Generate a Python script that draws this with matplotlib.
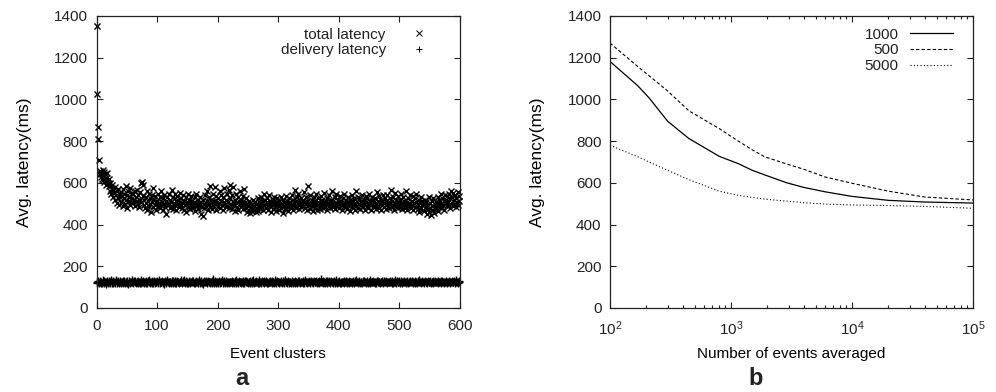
import numpy as np
import matplotlib.pyplot as plt

plt.rcParams['font.family'] = ['Liberation Sans', 'DejaVu Sans']
plt.rcParams['mathtext.default'] = 'regular'
plt.rcParams['text.color'] = '#222222'

# panel a: per event cluster latency (ms), clusters 0..599
total_latency = [
    1350, 1025, 870, 810, 710, 640, 655, 630, 645, 620, 660, 615, 650, 605, 640, 625, 590, 645, 610, 600,
    585, 620, 560, 600, 545, 575, 590, 530, 565, 550, 520, 580, 540, 505, 560, 525, 570, 495, 545, 530,
    510, 555, 535, 490, 570, 525, 545, 500, 585, 520, 540, 480, 560, 515, 530, 495, 575, 510, 550, 525,
    505, 545, 520, 490, 560, 530, 515, 565, 500, 540, 485, 555, 520, 510, 600, 605, 590, 535, 495, 520,
    480, 530, 505, 560, 470, 515, 545, 490, 525, 500, 460, 540, 510, 575, 485, 520, 495, 535, 505, 470,
    515, 490, 545, 505, 480, 530, 495, 560, 510, 470, 525, 500, 540, 485, 515, 450, 530, 505, 495, 545,
    500, 480, 520, 510, 565, 490, 530, 475, 505, 545, 495, 515, 470, 535, 500, 520, 485, 550, 510, 495,
    525, 480, 505, 540, 470, 515, 495, 530, 460, 510, 500, 545, 485, 520, 505, 475, 535, 490, 515, 500,
    480, 510, 530, 465, 500, 545, 490, 520, 475, 505, 495, 530, 450, 510, 485, 440, 520, 500, 480, 540,
    505, 490, 560, 515, 470, 530, 500, 585, 485, 520, 510, 475, 545, 495, 515, 580, 500, 470, 535, 510,
    490, 525, 505, 560, 480, 515, 540, 495, 470, 530, 510, 575, 500, 485, 520, 545, 490, 510, 565, 480,
    525, 590, 500, 475, 540, 510, 580, 495, 465, 520, 505, 545, 485, 530, 470, 515, 500, 560, 490, 520,
    505, 475, 535, 495, 570, 510, 480, 525, 460, 500, 490, 515, 470, 505, 455, 485, 500, 465, 520, 480,
    490, 470, 510, 460, 500, 480, 525, 465, 495, 510, 475, 530, 490, 505, 470, 515, 545, 495, 520, 500,
    480, 510, 525, 470, 500, 540, 490, 515, 460, 505, 495, 520, 475, 530, 500, 485, 510, 465, 525, 490,
    505, 470, 515, 495, 530, 480, 500, 455, 520, 490, 510, 475, 535, 500, 485, 515, 465, 505, 525, 490,
    510, 480, 540, 495, 520, 470, 505, 565, 490, 515, 480, 530, 500, 545, 475, 510, 495, 525, 485, 505,
    520, 490, 510, 555, 480, 500, 530, 470, 515, 585, 495, 505, 475, 540, 510, 490, 520, 465, 505, 530,
    485, 515, 500, 545, 470, 510, 525, 490, 505, 475, 535, 500, 520, 480, 510, 495, 550, 485, 515, 500,
    470, 525, 505, 490, 540, 510, 480, 520, 500, 560, 485, 515, 495, 530, 475, 505, 545, 490, 520, 500,
    510, 480, 535, 495, 515, 470, 525, 500, 490, 545, 505, 485, 520, 475, 510, 530, 495, 505, 465, 520,
    500, 540, 485, 515, 495, 525, 470, 505, 560, 490, 510, 480, 530, 500, 520, 475, 515, 495, 540, 505,
    485, 520, 500, 470, 535, 510, 490, 525, 480, 505, 545, 495, 515, 470, 530, 500, 485, 520, 510, 490,
    525, 475, 505, 555, 490, 515, 480, 535, 500, 520, 470, 510, 495, 540, 485, 505, 525, 475, 515, 500,
    540, 490, 510, 480, 525, 500, 565, 485, 515, 495, 530, 470, 505, 550, 490, 520, 500, 480, 535, 510,
    495, 520, 485, 545, 505, 475, 530, 500, 515, 480, 560, 495, 510, 470, 525, 505, 490, 540, 500, 480,
    515, 495, 535, 470, 505, 525, 485, 510, 545, 490, 500, 475, 520, 460, 505, 530, 480, 495, 515, 470,
    500, 465, 520, 485, 510, 450, 495, 475, 530, 460, 505, 480, 445, 515, 490, 470, 525, 455, 500, 485,
    475, 510, 490, 530, 465, 505, 520, 485, 545, 500, 480, 525, 495, 515, 470, 540, 505, 520, 490, 535,
    510, 545, 495, 525, 480, 560, 505, 530, 490, 550, 520, 500, 540, 485, 525, 510, 555, 495, 535, 515,
]

delivery_latency = [
    126, 121, 129, 124, 118, 131, 125, 122, 127, 120, 133, 124, 119, 128, 123, 126, 117, 130, 125, 121,
    124, 128, 120, 126, 132, 122, 125, 118, 129, 123, 127, 121, 134, 124, 119, 126, 128, 122, 125, 130,
    121, 127, 124, 118, 129, 125, 131, 120, 126, 123, 122, 128, 117, 125, 130, 124, 121, 127, 135, 123,
    126, 120, 128, 124, 131, 119, 125, 127, 122, 129, 124, 118, 126, 133, 121, 125, 128, 123, 120, 127,
    125, 130, 122, 126, 119, 128, 124, 136, 121, 125, 127, 120, 129, 124, 122, 131, 126, 118, 125, 123,
    128, 121, 125, 132, 124, 119, 127, 123, 130, 122, 126, 125, 117, 129, 124, 121, 128, 134, 123, 126,
    122, 127, 124, 120, 129, 125, 131, 121, 126, 118, 128, 124, 122, 130, 125, 127, 119, 126, 123, 132,
    125, 120, 128, 123, 126, 135, 121, 124, 129, 122, 125, 118, 127, 131, 124, 120, 126, 128, 123, 125,
    129, 122, 126, 119, 125, 130, 124, 127, 121, 133, 125, 120, 128, 124, 122, 126, 117, 129, 125, 123,
    124, 128, 121, 126, 131, 123, 125, 119, 127, 124, 130, 122, 126, 138, 121, 125, 128, 120, 124, 127,
    122, 126, 129, 124, 118, 127, 125, 132, 121, 126, 123, 128, 120, 125, 130, 124, 122, 127, 119, 126,
    127, 123, 125, 130, 121, 126, 124, 119, 128, 125, 133, 122, 126, 124, 120, 129, 125, 127, 121, 124,
    125, 129, 122, 126, 120, 128, 124, 131, 123, 125, 118, 127, 126, 122, 130, 124, 121, 128, 125, 136,
    121, 126, 124, 129, 123, 125, 120, 127, 132, 122, 126, 124, 119, 128, 125, 123, 130, 121, 126, 124,
    128, 122, 125, 119, 127, 126, 131, 123, 124, 129, 121, 125, 127, 120, 126, 134, 124, 122, 128, 125,
    123, 127, 121, 126, 130, 124, 122, 128, 125, 119, 126, 132, 123, 125, 127, 121, 129, 124, 120, 126,
    126, 120, 129, 124, 122, 127, 125, 131, 121, 126, 124, 118, 128, 125, 123, 130, 122, 126, 127, 124,
    122, 128, 125, 121, 133, 124, 126, 120, 127, 125, 129, 123, 121, 126, 131, 124, 127, 119, 125, 128,
    125, 123, 127, 130, 122, 126, 124, 128, 120, 125, 139, 123, 126, 121, 129, 124, 127, 122, 125, 130,
    128, 121, 125, 124, 129, 122, 126, 131, 123, 127, 120, 125, 128, 124, 121, 126, 133, 122, 125, 127,
    124, 129, 122, 126, 120, 127, 125, 123, 130, 121, 126, 128, 124, 119, 127, 125, 122, 131, 126, 123,
    127, 122, 125, 129, 124, 120, 128, 126, 123, 132, 125, 121, 127, 124, 129, 122, 126, 125, 118, 128,
    123, 126, 130, 124, 121, 127, 125, 128, 122, 126, 124, 135, 120, 127, 125, 123, 129, 124, 126, 121,
    126, 124, 121, 128, 125, 130, 123, 126, 122, 127, 124, 129, 125, 120, 128, 126, 123, 131, 124, 127,
    121, 127, 125, 123, 129, 124, 126, 120, 128, 125, 122, 127, 133, 124, 126, 121, 128, 125, 123, 129,
    125, 122, 128, 126, 124, 119, 127, 125, 131, 123, 126, 122, 128, 124, 121, 127, 125, 130, 123, 126,
    128, 124, 121, 127, 125, 129, 122, 126, 124, 120, 128, 125, 123, 132, 126, 122, 127, 124, 129, 125,
    122, 126, 129, 124, 127, 121, 125, 128, 123, 126, 130, 124, 120, 127, 125, 122, 128, 126, 124, 131,
    126, 123, 125, 129, 121, 127, 124, 126, 122, 130, 125, 128, 123, 126, 120, 127, 124, 129, 125, 122,
    124, 128, 126, 121, 127, 125, 130, 123, 126, 124, 128, 122, 125, 133, 124, 127, 121, 126, 128, 125,
]

clusters = np.arange(len(total_latency))

# panel b: average latency vs number of events averaged
events_averaged = [100, 170, 210, 300, 450, 800, 1150, 1500, 1900, 2900, 4000, 6000,
                   10000, 20000, 40000, 100000]
avg_1000 = [1182, 1065, 1008, 895, 812, 727, 692, 660, 638, 600, 578, 557, 535, 516, 508, 503]
avg_500 = [1270, 1157, 1114, 1040, 945, 860, 800, 758, 725, 690, 665, 628, 598, 560, 532, 518]
avg_5000 = [780, 725, 700, 660, 615, 560, 540, 530, 522, 512, 505, 498, 494, 491, 487, 478]

fig = plt.figure(figsize=(9.96, 3.92), dpi=100)
ax1 = fig.add_axes([0.0969, 0.2143, 0.365, 0.745])
ax2 = fig.add_axes([0.6124, 0.2143, 0.3645, 0.745])

ax1.plot(clusters, total_latency, 'x', color='k', ms=5, mew=1.0,
         clip_on=False, label='total latency')
ax1.plot(clusters, delivery_latency, '+', color='k', ms=5.5, mew=1.0,
         clip_on=False, label='delivery latency')
ax1.set_xlim(0, 600)
ax1.set_ylim(0, 1400)
ax1.set_xticks(range(0, 601, 100))
ax1.set_yticks(range(0, 1401, 200))
ax1.set_xlabel('Event clusters', fontsize=11, labelpad=10)
ax1.set_ylabel('Avg. latency(ms)', fontsize=12.5, labelpad=16)

ax2.plot(events_averaged, avg_1000, '-', color='k', lw=0.9, label='1000')
ax2.plot(events_averaged, avg_500, '--', color='k', lw=0.8, dashes=(3, 2), label='500')
ax2.plot(events_averaged, avg_5000, ':', color='k', lw=0.8, dashes=(1, 2), label='5000')
ax2.set_xscale('log')
ax2.set_xlim(1e2, 1e5)
ax2.set_ylim(0, 1400)
ax2.set_yticks(range(0, 1401, 200))
ax2.set_xlabel('Number of events averaged', fontsize=11, labelpad=7)
ax2.set_ylabel('Avg. latency(ms)', fontsize=12.5, labelpad=16)

for ax in (ax1, ax2):
    for s in ax.spines.values():
        s.set_linewidth(0.9)
        s.set_color('#222222')
    ax.tick_params(which='both', direction='in', top=True, right=True,
                   labelsize=11, colors='#222222', width=0.8)
    ax.tick_params(which='major', length=4)
    ax.tick_params(which='minor', length=2)
    ax.tick_params(axis='x', pad=8)
    ax.tick_params(axis='y', pad=6)
    leg = ax.legend(loc='upper right', bbox_to_anchor=(0.945, 0.96), frameon=False,
                    markerfirst=False, fontsize=11, handlelength=2.8, handletextpad=0.75,
                    labelspacing=0.12, borderpad=0, borderaxespad=0)
    for h in leg.legend_handles:
        h.set_markeredgewidth(0.7)
        h.set_markersize(4.5)

ax1.text(0.399, -0.24, 'a', transform=ax1.transAxes, fontsize=17,
         fontweight='bold', ha='center', va='center')
ax2.text(0.401, -0.24, 'b', transform=ax2.transAxes, fontsize=17,
         fontweight='bold', ha='center', va='center')

plt.savefig('out.png', dpi=100)
